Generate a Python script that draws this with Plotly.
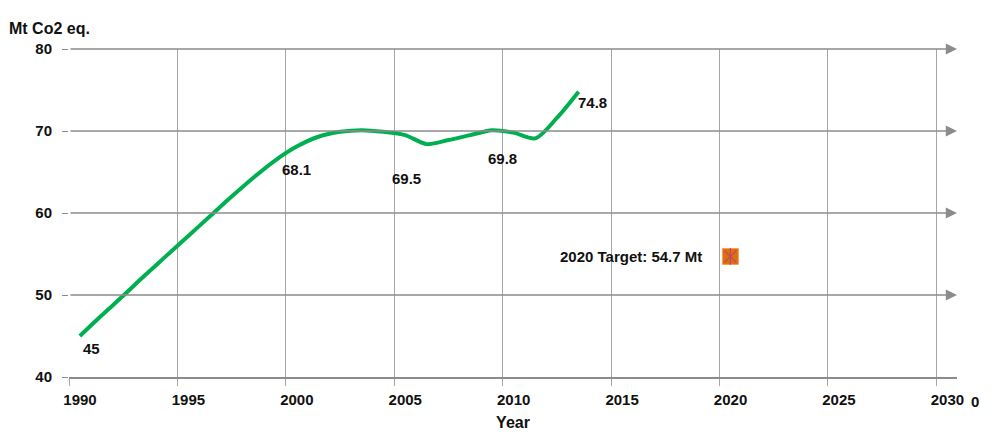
import plotly.graph_objects as go

# ---- data ----
years = list(range(1990, 2014))
emissions = [45.0, 47.5, 49.9, 52.4, 54.8, 57.2, 59.6, 62.0, 64.3, 66.4, 68.1,
             69.3, 69.9, 70.1, 69.9, 69.5, 68.4, 68.9, 69.5, 70.1, 69.8, 69.1,
             71.6, 74.8]
label_years = [1990, 2000, 2005, 2010, 2013]
label_values = [45, 68.1, 69.5, 69.8, 74.8]
label_text = ["45", "68.1", "69.5", "69.8", "74.8"]
label_dx = [12, 0, 1, -11, 14]
label_dy = [-12, -23, -43, -26, -11]
target_year = 2020
target_value = 54.7
y_grid_values = [50, 60, 70, 80]
x_tick_years = list(range(1990, 2031, 5))

FONT = "Liberation Sans, Arial"
GRID = "#8c8c8c"
X_END = 2030.95
TXT = dict(family=FONT, size=15, color="#111111", weight="bold")

fig = go.Figure()
fig.add_trace(go.Scatter(
    x=[y + 0.5 for y in years], y=emissions, mode="lines",
    line=dict(color="#00B050", width=4, shape="spline", smoothing=0.8),
    hoverinfo="skip", showlegend=False))
fig.add_trace(go.Scatter(
    x=[target_year + 0.5], y=[target_value], mode="markers",
    marker=dict(symbol="square", size=16, color="#E46C0A",
                line=dict(color="#F0A060", width=1)),
    showlegend=False))
for sym in ["x-thin-open", "line-ns-open"]:
    fig.add_trace(go.Scatter(
        x=[target_year + 0.5], y=[target_value], mode="markers",
        marker=dict(symbol=sym, size=12, color="#B0506A",
                    line=dict(color="#B0506A", width=1.2)),
        showlegend=False))

annotations = []
for yv in y_grid_values:
    annotations.append(dict(
        x=X_END, y=yv, xref="x", yref="y", ax=1990, ay=yv, axref="x", ayref="y",
        text="", showarrow=True, arrowhead=2, arrowsize=1.4, arrowwidth=1.6,
        arrowcolor=GRID))
for yr, v, t, dx, dy in zip(label_years, label_values, label_text, label_dx, label_dy):
    annotations.append(dict(
        x=yr + 0.5, y=v, xref="x", yref="y", text=t, showarrow=False,
        xshift=dx, yshift=dy, font=TXT))
annotations.append(dict(
    x=target_year + 0.5, y=target_value, xref="x", yref="y",
    text="2020 Target: 54.7 Mt", showarrow=False, xanchor="right",
    xshift=-26, font=TXT))
annotations.append(dict(
    x=0, y=1, xref="paper", yref="paper", xanchor="left", yanchor="bottom",
    xshift=-62, yshift=10, text="Mt Co2 eq.", showarrow=False,
    font=dict(family=FONT, size=16, color="#111111", weight="bold")))
annotations.append(dict(
    x=1, y=0, xref="paper", yref="paper", xanchor="left", yanchor="top",
    xshift=12, yshift=-14, text="0", showarrow=False, font=TXT))

# the page adds an 8px body margin, so offsets are compensated here
fig.update_layout(
    width=1000, height=435,
    margin=dict(l=61, r=51, t=41, b=66, autoexpand=False),
    paper_bgcolor="white", plot_bgcolor="white",
    annotations=annotations,
    font=TXT,
    xaxis=dict(
        range=[1990, X_END], tickvals=x_tick_years,
        ticktext=[str(y) for y in x_tick_years],
        showgrid=True, gridcolor="#a6a6a6", gridwidth=1,
        showline=True, linecolor=GRID, linewidth=1.5,
        ticks="outside", ticklen=7, tickcolor="#a6a6a6",
        ticklabelshift=11, ticklabelstandoff=1, tickfont=TXT,
        title=dict(text="Year", font=dict(family=FONT, size=16, color="#111111",
                                          weight="bold"), standoff=10),
        zeroline=False, fixedrange=True, automargin=False),
    yaxis=dict(
        range=[40, 80], tickvals=[40, 50, 60, 70, 80],
        showgrid=False, showline=False, zeroline=False,
        ticks="outside", ticklen=6, tickcolor=GRID, ticklabelstandoff=7,
        tickfont=TXT, fixedrange=True, automargin=False),
)

fig.write_html("out.html")
